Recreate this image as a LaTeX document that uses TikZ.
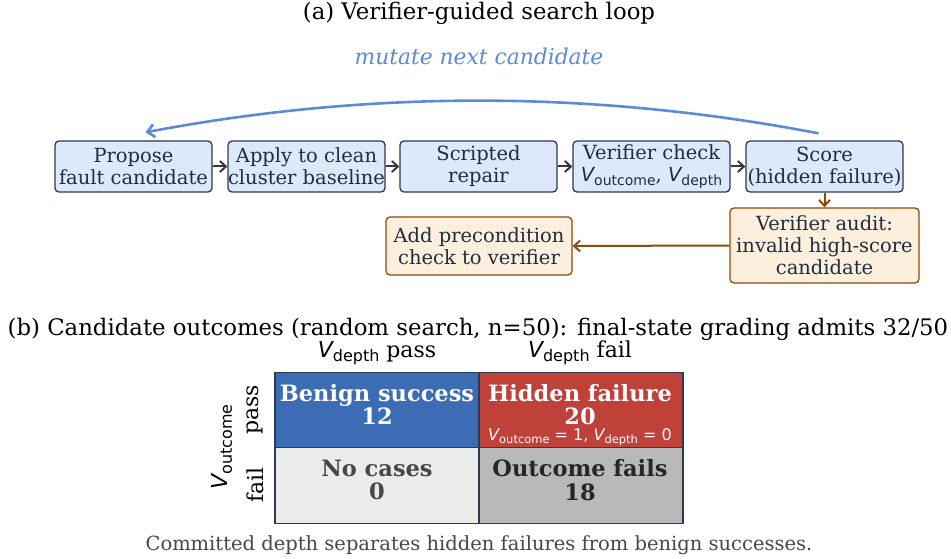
\documentclass[tikz,border=0pt]{standalone}
\usepackage{fontspec}
\setmainfont{DejaVu Serif}
\newfontfamily\dvs{DejaVu Sans}
\usetikzlibrary{arrows.meta,calc}
\definecolor{boxfill}{HTML}{DDE8FA}
\definecolor{boxdraw}{HTML}{2B3A4C}
\definecolor{txt}{HTML}{1F2D3D}
\definecolor{ofill}{HTML}{FDEFDD}
\definecolor{odraw}{HTML}{8C4A0B}
\definecolor{loopblue}{HTML}{5B8BD6}
\definecolor{cblue}{HTML}{3C6DB4}
\definecolor{cred}{HTML}{C0403A}
\definecolor{clight}{HTML}{EBEBEB}
\definecolor{cgray}{HTML}{B9B9B9}
\definecolor{grid}{HTML}{2A3A50}
\newcommand\Vsub[2]{{\dvs\itshape V}\raisebox{-0.35ex}{\dvs\fontsize{#2}{#2}\selectfont #1}}
\tikzset{
  flowbox/.style={draw=boxdraw, fill=boxfill, line width=1.3pt, rounded corners=4pt,
    minimum width=157pt, minimum height=51pt, inner sep=0pt, align=center,
    text=txt, font=\fontsize{19.5}{22}\selectfont},
  obox/.style={draw=odraw, fill=ofill, line width=1.3pt, rounded corners=4pt,
    inner sep=0pt, align=center, text=txt, font=\fontsize{19.5}{22}\selectfont},
  flowarrow/.style={draw=black!78, line width=2pt, -{Straight Barb[length=6pt,width=11pt]}},
  oarrow/.style={draw=odraw, line width=2pt, -{Straight Barb[length=6pt,width=11pt]}},
  cell/.style={draw=grid, line width=1.3pt, minimum width=204pt, minimum height=75.5pt, inner sep=0pt},
  celltxt/.style={align=center, font=\bfseries\fontsize{22.5}{23.5}\selectfont},
  plain/.style={inner sep=0pt, text=black, font=\fontsize{22.8}{26}\selectfont},
  lab/.style={inner sep=0pt, text=black, font=\fontsize{22}{26}\selectfont},
}
\begin{document}
\begin{tikzpicture}[x=1pt,y=-1pt]
\useasboundingbox (0,0) rectangle (951,559);
\node[plain] (ta) at (479,13) {(a) Verifier-guided search loop};
\node[inner sep=0pt, text=loopblue, font=\itshape\fontsize{21.8}{24}\selectfont] (mut) at (479,56) {mutate next candidate};

\node[flowbox] (p1) at (133.5,166.5) {Propose\\fault candidate};
\node[flowbox] (p2) at (306.5,166.5) {Apply to clean\\cluster baseline};
\node[flowbox] (p3) at (478.5,166.5) {Scripted\\repair};
\node[flowbox] (p4) at (651.5,166.5) {Verifier check\\\Vsub{outcome}{14}, \Vsub{depth}{14}};
\node[flowbox] (p5) at (824.5,166.5) {Score\\(hidden failure)};
\foreach \a/\b in {p1/p2,p2/p3,p3/p4,p4/p5}{\draw[flowarrow] (\a.east) -- (\b.west);}

\node[obox, minimum width=189pt, minimum height=75pt] (aud) at (824.5,245.5) {Verifier audit:\\invalid high-score\\candidate};
\node[obox, minimum width=186pt, minimum height=58pt] (pre) at (479,246) {Add precondition\\check to verifier};
\draw[oarrow] (p5.south) -- (aud.north);
\draw[oarrow] (aud.west) -- (pre.east);

\coordinate (ls) at ([xshift=-6pt,yshift=7pt]p5.north);
\coordinate (le) at ([xshift=12pt,yshift=8pt]p1.north);
\draw[loopblue, line width=2.6pt, -{Straight Barb[length=7pt,width=13pt]}]
  (ls) .. controls (593,90) and (369,90) .. (le);

\node[plain] (tb) at (478,329) {(b) Candidate outcomes (random search, n=50): final-state grading admits 32/50};
\node[lab] (c1) at (377,353) {\Vsub{depth}{16} pass};
\node[lab] (c2) at (580,353) {\Vsub{depth}{16} fail};

\node[cell, fill=cblue] (bs) at (377,410) {};
\node[cell, fill=cred] (hf) at (581,410) {};
\node[cell, fill=clight] (nc) at (377,485.5) {};
\node[cell, fill=cgray] (of) at (581,485.5) {};
\node[celltxt, text=white] at (377,404.5) {Benign success\\12};
\node[celltxt, text=white] at (580,404.5) {Hidden failure\\20};
\node[text=white, inner sep=0pt, font=\fontsize{16}{18}\selectfont] at (580,437) {\Vsub{outcome}{11.5}{\dvs\ =\ 1,} \Vsub{depth}{11.5}{\dvs\ =\ 0}};
\node[celltxt, text=black!72] at (377,480) {No cases\\0};
\node[celltxt, text=black!85] at (580,480) {Outcome fails\\18};

\node[lab, rotate=90] (rp) at (255,410) {pass};
\node[lab, rotate=90] (rf) at (255,485) {fail};
\node[lab, rotate=90] (rv) at (222,447) {\Vsub{outcome}{16}};

\node[inner sep=0pt, text=black!72, font=\fontsize{19.5}{22}\selectfont] (cap) at (479,545) {Committed depth separates hidden failures from benign successes.};
\end{tikzpicture}
\end{document}
